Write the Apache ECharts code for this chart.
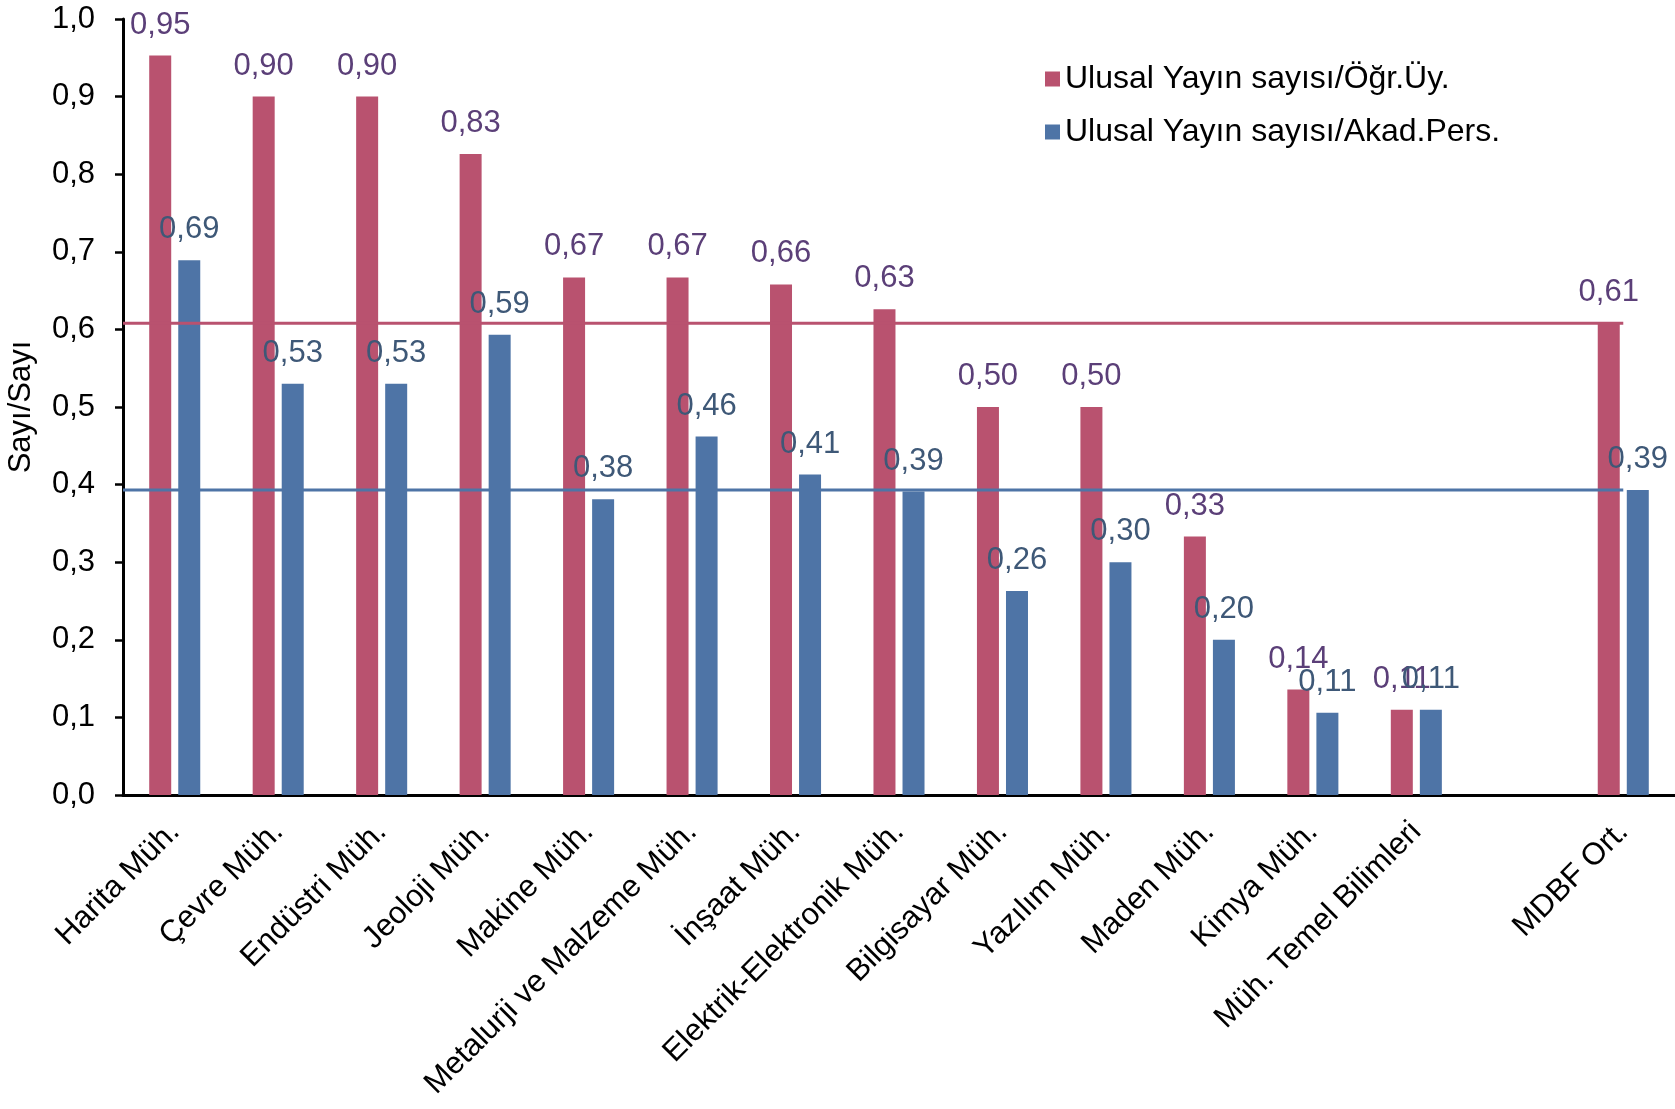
<!DOCTYPE html>
<html>
<head>
<meta charset="utf-8">
<script src="https://cdn.jsdelivr.net/npm/echarts@6/dist/echarts.min.js"></script>
<style>
  html, body { margin: 0; padding: 0; background: #fff; }
  #main { width: 1675px; height: 1109px; }
</style>
</head>
<body>
<div id="main"></div>
<script>
// categories (the empty one keeps the gap before the faculty average)
const categories = [
  'Harita Müh.', 'Çevre Müh.', 'Endüstri Müh.', 'Jeoloji Müh.', 'Makine Müh.',
  'Metalurji ve Malzeme Müh.', 'İnşaat Müh.', 'Elektrik-Elektronik Müh.',
  'Bilgisayar Müh.', 'Yazılım Müh.', 'Maden Müh.', 'Kimya Müh.',
  'Müh. Temel Bilimleri', '', 'MDBF Ort.'
];
const seriesNames = ['Ulusal Yayın sayısı/Öğr.Üy.', 'Ulusal Yayın sayısı/Akad.Pers.'];
const perFaculty = [0.953, 0.900, 0.900, 0.826, 0.667, 0.667, 0.658, 0.626, 0.500, 0.500, 0.333, 0.136, 0.110, null, 0.608];
const perStaff   = [0.689, 0.530, 0.530, 0.593, 0.381, 0.462, 0.413, 0.391, 0.263, 0.300, 0.200, 0.106, 0.110, null, 0.393];
// average lines run from the axis to the "MDBF Ort." category
const avgIndex = 14;
const yTicks = [0, 0.1, 0.2, 0.3, 0.4, 0.5, 0.6, 0.7, 0.8, 0.9, 1.0];

const colors = ['#B9526F', '#4E74A6'];
const labelColors = ['#5B3F78', '#3E5877'];
const font = 'Liberation Sans, Arial, sans-serif';
const fmt = (v) => v.toFixed(2).replace('.', ',');

const myChart = echarts.init(document.getElementById('main'));

function barSeries(i, values) {
  return {
    name: seriesNames[i],
    type: 'bar',
    data: values,
    barWidth: 22,
    barGap: '32%',
    itemStyle: { color: colors[i] },
    label: {
      show: true,
      position: 'top',
      distance: 15,
      color: labelColors[i],
      fontFamily: font,
      fontSize: 31,
      formatter: (p) => fmt(p.value)
    },
    z: 2
  };
}

function avgLine(i, values) {
  const v = values[avgIndex];
  return {
    type: 'line',
    xAxisIndex: 1,
    data: [[0, v], [avgIndex + 0.5, v]],
    symbol: 'none',
    silent: true,
    lineStyle: { color: colors[i], width: 3 },
    z: 3
  };
}

let option = {
  animation: false,
  textStyle: { fontFamily: font },
  grid: { left: 123, right: 0, top: 19, bottom: 314, containLabel: false, outerBoundsMode: 'none' },
  legend: {
    orient: 'vertical',
    left: 1040,
    top: 58,
    data: seriesNames,
    icon: 'rect',
    itemWidth: 15,
    itemHeight: 15,
    itemGap: 21,
    textStyle: { fontSize: 32, color: '#000', fontFamily: font }
  },
  xAxis: [{
    type: 'category',
    data: categories,
    axisLine: { lineStyle: { color: '#000', width: 3 } },
    axisTick: { show: false },
    axisLabel: {
      interval: 0,
      rotate: 45,
      margin: 32,
      color: '#000',
      fontSize: 31,
      fontFamily: font
    }
  }, {
    type: 'value',
    min: 0,
    max: categories.length,
    show: false
  }],
  yAxis: {
    type: 'value',
    min: yTicks[0],
    max: yTicks[yTicks.length - 1],
    interval: 0.1,
    name: 'Sayı/Sayı',
    nameLocation: 'middle',
    nameRotate: 90,
    nameGap: 86,
    nameTextStyle: { fontSize: 31, color: '#000', fontFamily: font },
    axisLine: { show: true, lineStyle: { color: '#000', width: 3 } },
    axisTick: { show: true, length: 8, lineStyle: { color: '#000', width: 2.5 } },
    splitLine: { show: false },
    axisLabel: {
      margin: 28,
      color: '#000',
      fontSize: 31,
      fontFamily: font,
      formatter: (v) => v.toFixed(1).replace('.', ',')
    }
  },
  series: [
    barSeries(0, perFaculty),
    barSeries(1, perStaff),
    avgLine(0, perFaculty),
    avgLine(1, perStaff)
  ]
};
myChart.setOption(option);
</script>
</body>
</html>
